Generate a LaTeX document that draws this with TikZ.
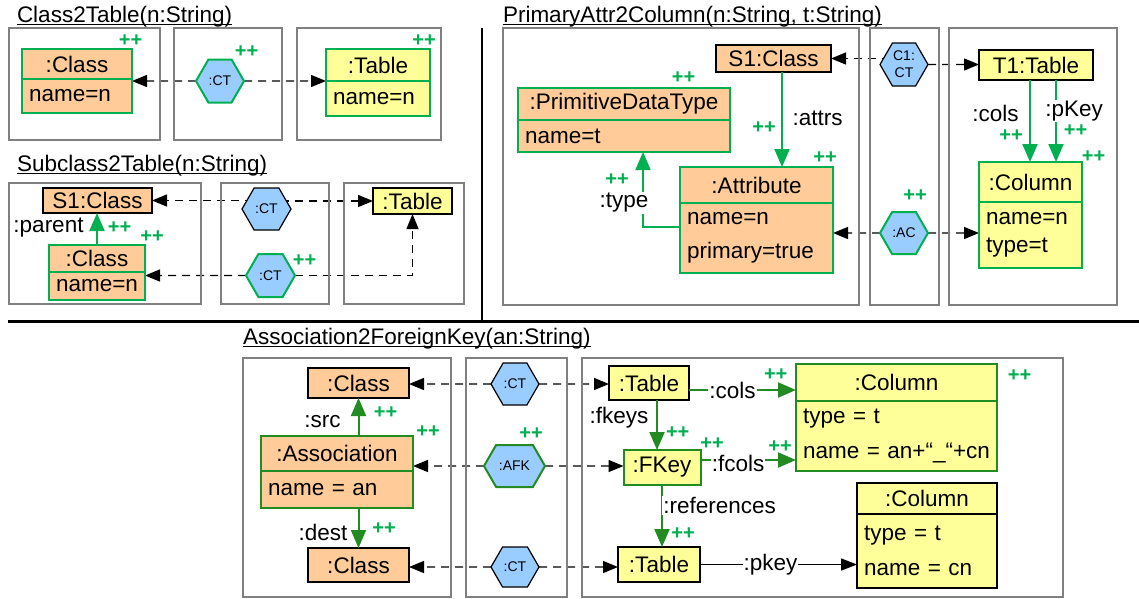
\documentclass[tikz,border=0pt]{standalone}
\usepackage{fontspec}
\setmainfont{Liberation Sans}
\usetikzlibrary{positioning,shapes.symbols,arrows.meta,backgrounds}

\definecolor{srcfill}{HTML}{FFCC99}
\definecolor{tgtfill}{HTML}{FFFF99}
\definecolor{corrfill}{HTML}{99CCFF}
\definecolor{newgreen}{HTML}{00B050}
\definecolor{fkgreen}{HTML}{228B22}
\definecolor{boxgray}{HTML}{808080}

\begin{document}
\begin{tikzpicture}[
        x=1pt, y=-1pt,
        every node/.style={font=\fontsize{22.5}{26.5}\selectfont, inner sep=0pt, outer sep=0pt},
        rulebox/.style={draw=boxgray, line width=2.5pt},
        srcobj/.style={draw, line width=1.5pt, fill=srcfill},
        tgtobj/.style={draw, line width=1.5pt, fill=tgtfill},
        isnew/.style={draw=newgreen, line width=2pt},
        isnewfk/.style={draw=fkgreen, line width=2pt},
        objbody/.style={align=left, inner xsep=7pt},
        corr/.style={signal, signal to=west and east, signal pointer angle=120, draw, line width=1.2pt, fill=corrfill, font=\fontsize{14}{16}\selectfont},
        plus/.style={text=newgreen, font=\bfseries\fontsize{20}{22}\selectfont},
        role/.style={fill=white, inner sep=1pt},
        title/.style={anchor=base west},
        mapline/.style={dash pattern=on 8pt off 6pt, line width=1.4pt, -{Triangle[length=15pt,width=12pt]}},
        linkline/.style={line width=2pt, -{Triangle[length=18pt,width=15pt]}}
    ]
 \useasboundingbox (0,0) rectangle (1139,598);

 % frames
 \draw[rulebox] (9,28) rectangle (160,140);
 \draw[rulebox] (174,28) rectangle (282,140);
 \draw[rulebox] (297,28) rectangle (441,140);
 \draw[rulebox] (9,183) rectangle (201,304);
 \draw[rulebox] (221,183) rectangle (329,304);
 \draw[rulebox] (344,183) rectangle (464,304);
 \draw[rulebox] (503,28) rectangle (859,305);
 \draw[rulebox] (870,28) rectangle (939,305);
 \draw[rulebox] (949,28) rectangle (1117,305);
 \draw[rulebox] (243,358) rectangle (451,597);
 \draw[rulebox] (466,358) rectangle (567,597);
 \draw[rulebox] (582,358) rectangle (1063,597);
 \draw[line width=2.5pt] (8,321.5) -- (1139,321.5);
 \draw[line width=2.5pt] (482,28) -- (482,321.5);

 % titles
 \node[title] (tc2t) at (17,22) {Class2Table(n:String)};
 \node[title] (tsub) at (17,171) {Subclass2Table(n:String)};
 \node[title] (tpa) at (503,22) {PrimaryAttr2Column(n:String, t:String)};
 \node[title] (tafk) at (243,344) {Association2ForeignKey(an:String)};
 \foreach \t in {tc2t,tsub,tpa,tafk}
     \draw[line width=1.4pt] ([yshift=-2.5pt]\t.base west) -- ([yshift=-2.5pt]\t.base east);

 % Class2Table
 \node[srcobj, isnew, minimum width=110pt, minimum height=30pt] (c2tcls) at (77,64) {:Class};
 \node[srcobj, isnew, objbody, text width=96pt, minimum height=34pt, below=0pt of c2tcls] (c2tclsb) {name=n};
 \node[tgtobj, isnew, minimum width=104pt, minimum height=32pt] (c2ttab) at (378,65) {:Table};
 \node[tgtobj, isnew, objbody, text width=90pt, minimum height=35pt, below=0pt of c2ttab] (c2ttabb) {name=n};
 \node[corr, isnew, minimum width=48pt, minimum height=43pt] (c2tct) at (220,81) {:CT};

 % Subclass2Table
 \node[srcobj, minimum width=109pt, minimum height=25pt] (subs1) at (97.5,200.5) {S1:Class};
 \node[srcobj, isnew, minimum width=96pt, minimum height=27pt] (subcls) at (97,258.5) {:Class};
 \node[srcobj, isnew, objbody, text width=82pt, minimum height=28pt, below=0pt of subcls] (subclsb) {name=n};
 \node[tgtobj, minimum width=79pt, minimum height=26pt] (subtab) at (412.5,201) {:Table};
 \node[corr, minimum width=49pt, minimum height=42pt] (subct1) at (266.5,209) {:CT};
 \node[corr, isnew, minimum width=49pt, minimum height=43pt] (subct2) at (270.5,275.5) {:CT};

 % PrimaryAttr2Column
 \node[srcobj, minimum width=115pt, minimum height=27pt] (pas1) at (773.5,58.5) {S1:Class};
 \node[srcobj, isnew, minimum width=212pt, minimum height=32pt] (papdt) at (624,104) {:PrimitiveDataType};
 \node[srcobj, isnew, objbody, text width=198pt, minimum height=32pt, below=0pt of papdt] (papdtb) {name=t};
 \node[srcobj, isnew, minimum width=153pt, minimum height=36pt] (paattr) at (756.5,185) {:Attribute};
 \node[srcobj, isnew, objbody, text width=139pt, minimum height=70pt, below=0pt of paattr] (paattrb) {name=n\\[7pt]primary=true};
 \node[tgtobj, minimum width=114pt, minimum height=30pt] (pat1) at (1036,65) {T1:Table};
 \node[tgtobj, isnew, minimum width=103pt, minimum height=40pt] (pacol) at (1030.5,182) {:Column};
 \node[tgtobj, isnew, objbody, text width=89pt, minimum height=66pt, below=0pt of pacol] (pacolb) {name=n\\[1pt]type=t};
 \node[corr, minimum width=48pt, minimum height=43pt, align=center, font=\fontsize{14}{17}\selectfont] (pact) at (904,64.5) {C1:\\CT};
 \node[corr, isnew, minimum width=48pt, minimum height=42pt] (paac) at (904,233) {:AC};

 % Association2ForeignKey
 \node[srcobj, minimum width=101pt, minimum height=30pt] (acls1) at (358.5,383) {:Class};
 \node[srcobj, isnewfk, minimum width=152pt, minimum height=35pt] (aassoc) at (337,453.5) {:Association};
 \node[srcobj, isnewfk, objbody, text width=138pt, minimum height=37pt, below=0pt of aassoc] (aassocb) {name = an};
 \node[srcobj, minimum width=101pt, minimum height=34pt] (acls2) at (358.5,565) {:Class};
 \node[tgtobj, minimum width=80pt, minimum height=34pt] (atab1) at (649,383) {:Table};
 \node[tgtobj, isnewfk, minimum width=201pt, minimum height=37pt] (acol1) at (896.5,382.5) {:Column};
 \node[tgtobj, isnewfk, objbody, text width=187pt, minimum height=70pt, below=0pt of acol1] (acol1b) {type = t\\[8pt]name = an+“\_“+cn};
 \node[tgtobj, isnewfk, minimum width=77pt, minimum height=35pt] (afkey) at (662,467.5) {:FKey};
 \node[tgtobj, minimum width=82pt, minimum height=35pt] (atab2) at (659,564.5) {:Table};
 \node[tgtobj, minimum width=140pt, minimum height=31pt] (acol2) at (927,498.5) {:Column};
 \node[tgtobj, objbody, text width=126pt, minimum height=74pt, below=0pt of acol2] (acol2b) {type = t\\[9pt]name = cn};
 \node[corr, minimum width=48pt, minimum height=42pt] (act1) at (515,384) {:CT};
 \node[corr, isnewfk, minimum width=61pt, minimum height=42pt] (aafk) at (514.5,466) {:AFK};
 \node[corr, minimum width=48pt, minimum height=40pt] (act2) at (515,567) {:CT};

 % correspondence links
 \begin{scope}[on background layer]
 \draw[mapline] (c2tct) -- (c2tct -| c2tcls.east);
 \draw[mapline] (c2tct) -- (c2tct -| c2ttab.west);
 \draw[mapline] (subct1 |- subs1) -- (subs1.east);
 \draw[mapline] (subct1 |- subtab) -- (subtab.west);
 \draw[mapline] (subct2) -- (subct2 -| subcls.east);
 \draw[mapline] (subct2) -| (subtab.south);
 \draw[mapline] (pact |- pas1) -- (pas1.east);
 \draw[mapline] (pact) -- (pact -| pat1.west);
 \draw[mapline] (paac) -- (paac -| paattr.east);
 \draw[mapline] (paac) -- (paac -| pacol.west);
 \draw[mapline] (act1) -- (act1 -| acls1.east);
 \draw[mapline] (act1) -- (act1 -| atab1.west);
 \draw[mapline] (aafk) -- (aafk -| aassoc.east);
 \draw[mapline] (aafk) -- (aafk -| afkey.west);
 \draw[mapline] (act2) -- (act2 -| acls2.east);
 \draw[mapline] (act2) -- (act2 -| atab2.west);
 \end{scope}

 % links
 \coordinate (attrsfrom) at ([xshift=8.5pt]pas1.south);
 \coordinate (typefrom) at ([yshift=11pt]paattrb.west);
 \coordinate (typeto) at ([xshift=19pt]papdtb.south);
 \coordinate (colsfrom) at ([xshift=-6pt]pat1.south);
 \coordinate (pkeyfrom) at ([xshift=20pt]pat1.south);
 \coordinate (fkeysfrom) at ([xshift=8pt]atab1.south);
 \coordinate (colsbfrom) at ([yshift=-7pt]atab1.east);
 \coordinate (fcolsfrom) at ([yshift=7.5pt]afkey.east);
 \draw[linkline, newgreen] (subcls.north) -- (subcls.north |- subs1.south);
 \draw[linkline, newgreen] (attrsfrom) -- (attrsfrom |- paattr.north);
 \draw[linkline, newgreen] (typefrom) -| (typeto);
 \draw[linkline, newgreen] (colsfrom) -- (colsfrom |- pacol.north);
 \draw[linkline, newgreen] (pkeyfrom) -- (pkeyfrom |- pacol.north);
 \draw[linkline, fkgreen] (acls1.south |- aassoc.north) -- (acls1.south);
 \draw[linkline, fkgreen] (acls2.north |- aassocb.south) -- (acls2.north);
 \draw[linkline, fkgreen] (fkeysfrom) -- (fkeysfrom |- afkey.north);
 \draw[linkline, fkgreen] (colsbfrom) -- (colsbfrom -| acol1.west);
 \draw[linkline, fkgreen] (fcolsfrom) -- (fcolsfrom -| acol1.west);
 \draw[linkline, fkgreen] (afkey.south) -- (afkey.south |- atab2.north);
 \draw[line width=1.4pt, -{Triangle[length=16pt,width=12pt]}] (atab2) -- (atab2 -| acol2.west);

 % role names
 \node[role] (lparent) at (48.5,228) {:parent};
 \node[role] (lattrs) at (817.5,118) {:attrs};
 \node[role] (ltype) at (624,203) {:type};
 \node[role] (lcols) at (995.5,113) {:cols};
 \node[role] (lpkey) at (1074,111) {:pKey};
 \node[role] (lsrc) at (322.5,422) {:src};
 \node[role] (ldest) at (323,532) {:dest};
 \node[role] (lfkeys) at (619,418) {:fkeys};
 \node[role] (lcolsb) at (732.5,390) {:cols};
 \node[role] (lfcols) at (738,463) {:fcols};
 \node[role] (lrefs) at (719.6,505.5) {:references};
 \node[role] (lpkeyb) at (770.5,565) {:pkey};

 % created marks
 \foreach \px/\py [count=\k] in {130.5/40.5, 246.5/52, 424/40.5, 119.5/228, 152/237, 304.5/260.5,
     683.5/77.5, 764/128, 617/180, 825/157.5, 915/195.5, 1011/135.5, 1075.5/131, 1093.5/157,
     385.5/413, 428/431.5, 531/433.5, 384/529, 775.7/374.5, 1019.5/376, 677.7/432.5, 712/443.5,
     780/446.5, 683/533.5}
     \node[plus] (plus\k) at (\px,\py) {++};
\end{tikzpicture}
\end{document}
